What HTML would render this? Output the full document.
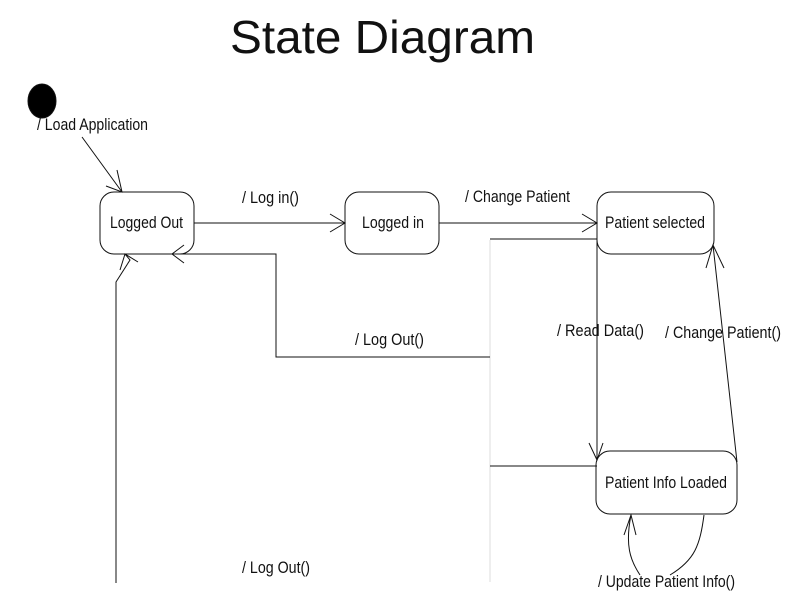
<!DOCTYPE html>
<html><head><meta charset="utf-8"><style>
body{margin:0;background:#fff;width:800px;height:600px;overflow:hidden}
svg text{font-family:"Liberation Sans",sans-serif;fill:#111}
</style></head><body>
<svg width="800" height="600" viewBox="0 0 800 600" xmlns="http://www.w3.org/2000/svg">
<text x="230" y="53" font-size="46" textLength="305" lengthAdjust="spacingAndGlyphs" fill="#222">State Diagram</text>
<g fill="none" stroke="#111" stroke-width="1">
<ellipse cx="42" cy="101" rx="14" ry="17" fill="#000"/>
<rect x="100" y="192" width="94" height="62" rx="14"/>
<rect x="345" y="192" width="94" height="62" rx="14"/>
<rect x="597" y="192" width="117" height="62" rx="14"/>
<rect x="596" y="451" width="141" height="63" rx="14"/>
<path d="M82 137 L122 192 M106 186 L122 192 L117 170"/>
<path d="M194 223 H345 M330 214 L345 223 L330 232"/>
<path d="M439 223 H597 M582 214 L597 223 L582 232"/>
<path d="M490 239 H597"/>
<path d="M490 240 V582" stroke="#ddd"/>
<path d="M490 357 H276 V254 H172 M184 245 L172 254 L184 263"/>
<path d="M116 583 V282 L130 260 L125 254 M120 270 L125 254 L138 262"/>
<path d="M490 466 H597"/>
<path d="M597 239 V460 M589 443 L597 460 L603 443"/>
<path d="M737 462 L713 245 M706 268 L713 245 L724 268"/>
<path d="M704 515 C700 545 695 560 670 575 M640 575 C630 560 625 545 631 515 M624 535 L631 515 L636 535"/>
</g>
<g font-size="17">
<text x="37" y="130" textLength="111" lengthAdjust="spacingAndGlyphs">/ Load Application</text>
<text x="110" y="228" textLength="73" lengthAdjust="spacingAndGlyphs">Logged Out</text>
<text x="362" y="228" textLength="62" lengthAdjust="spacingAndGlyphs">Logged in</text>
<text x="605" y="228" textLength="100" lengthAdjust="spacingAndGlyphs">Patient selected</text>
<text x="605" y="488" textLength="122" lengthAdjust="spacingAndGlyphs">Patient Info Loaded</text>
<text x="242" y="203" textLength="57" lengthAdjust="spacingAndGlyphs">/ Log in()</text>
<text x="465" y="202" textLength="105" lengthAdjust="spacingAndGlyphs">/ Change Patient</text>
<text x="355" y="345" textLength="69" lengthAdjust="spacingAndGlyphs">/ Log Out()</text>
<text x="557" y="336" textLength="87" lengthAdjust="spacingAndGlyphs">/ Read Data()</text>
<text x="665" y="338" textLength="116" lengthAdjust="spacingAndGlyphs">/ Change Patient()</text>
<text x="242" y="573" textLength="68" lengthAdjust="spacingAndGlyphs">/ Log Out()</text>
<text x="598" y="587" textLength="137" lengthAdjust="spacingAndGlyphs">/ Update Patient Info()</text>
</g>
</svg>
</body></html>
